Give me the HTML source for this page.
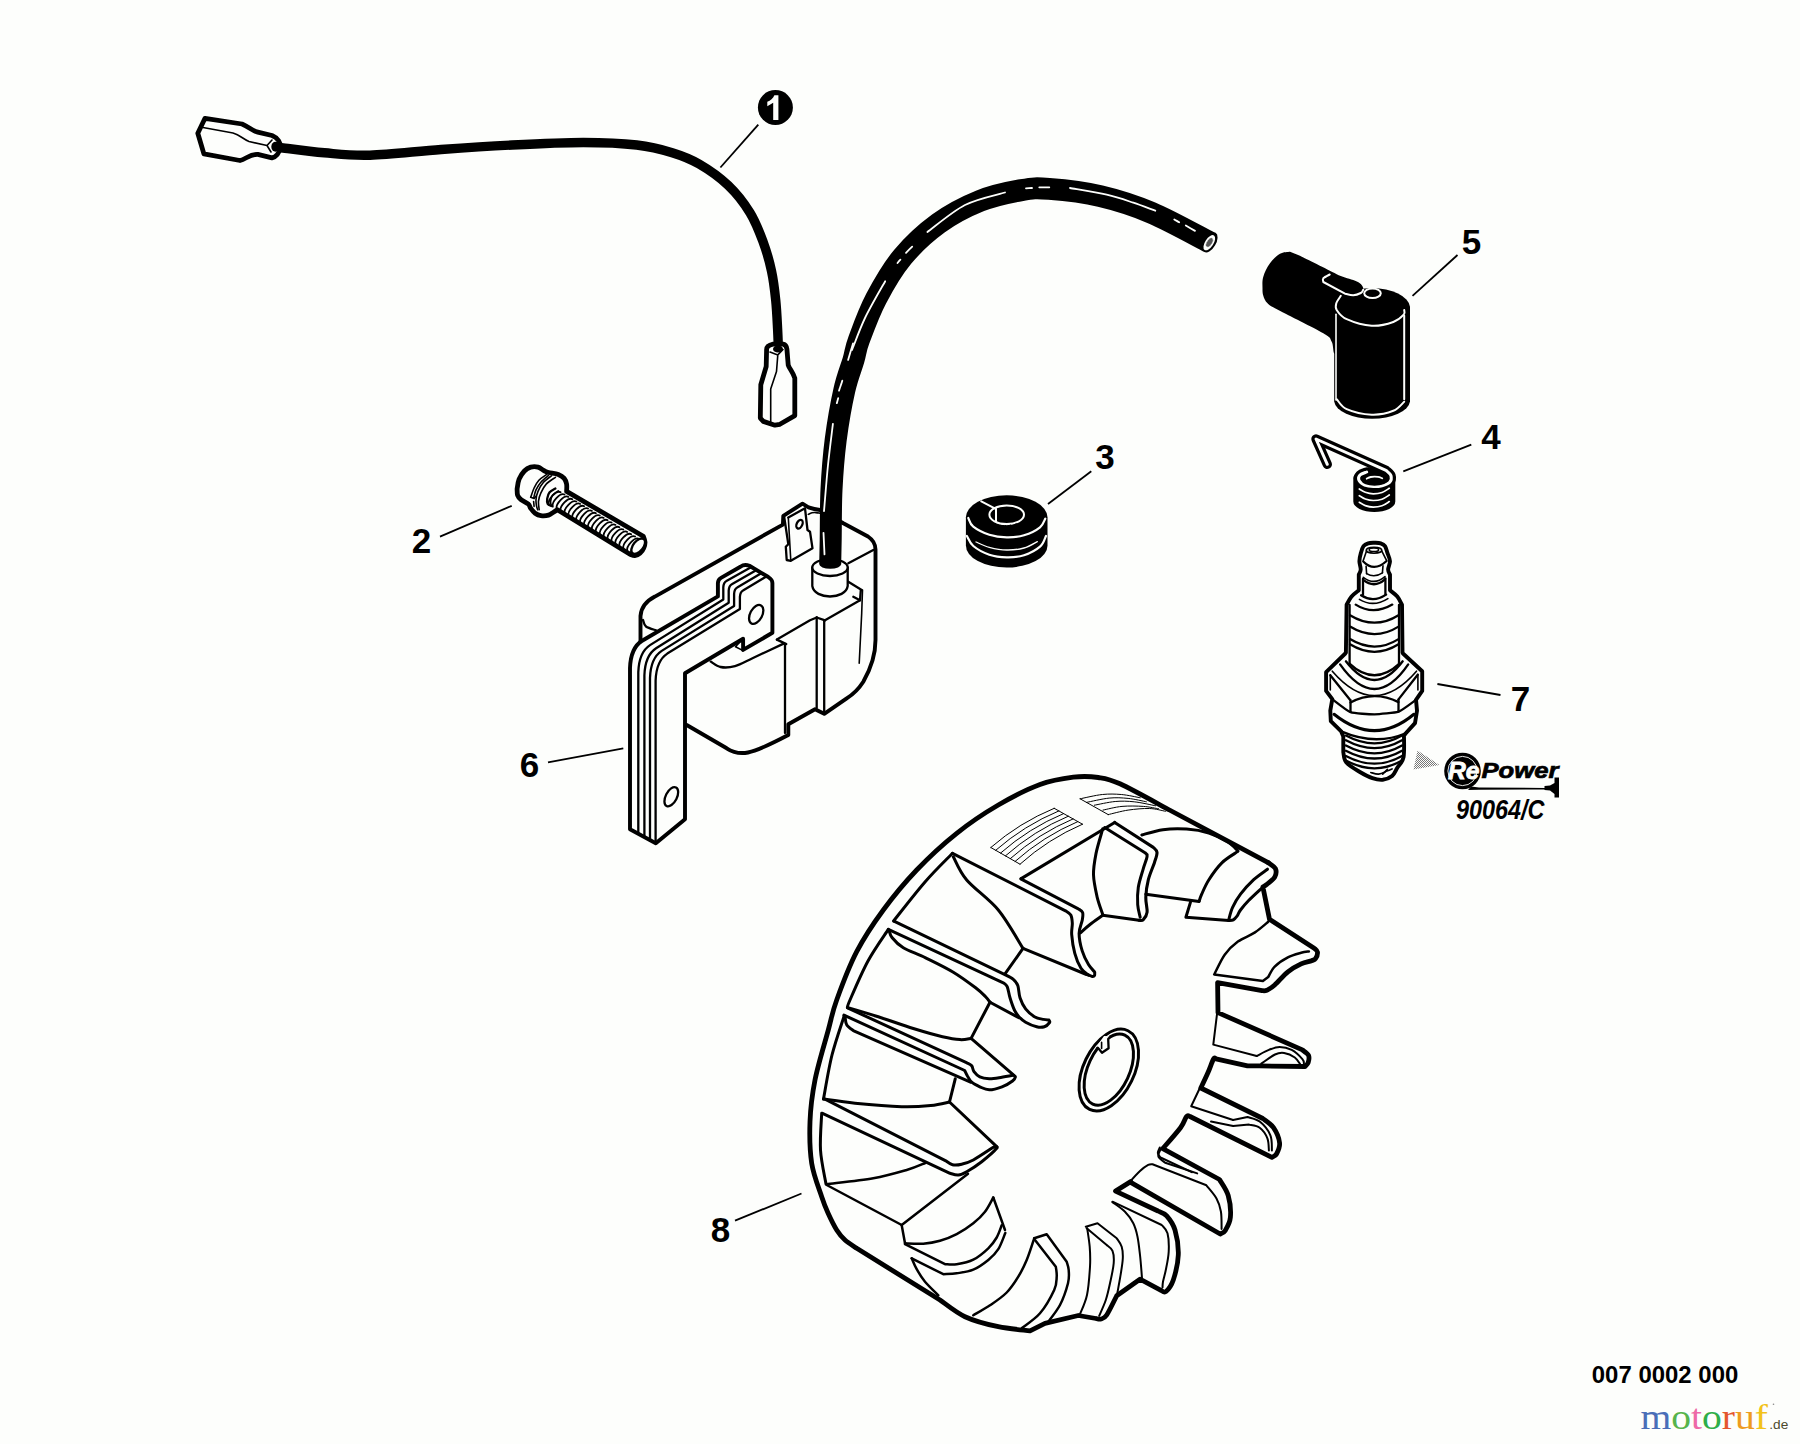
<!DOCTYPE html>
<html>
<head>
<meta charset="utf-8">
<title>Ignition parts diagram</title>
<style>
html,body{margin:0;padding:0;background:#fdfefc;}
body{width:1800px;height:1444px;overflow:hidden;font-family:"Liberation Sans",sans-serif;}
svg{display:block;position:absolute;left:0;top:0;}
.k{stroke:#000;fill:none;stroke-linecap:round;stroke-linejoin:round;}
.f{fill:#fdfefc;}
.b{fill:#000;}
.t6{stroke-width:5.4;}
.t5{stroke-width:4.8;}
.t4{stroke-width:3.9;}
.t3{stroke-width:3.1;}
.t2{stroke-width:2.3;}
.tf{stroke-width:3;}
.t25{stroke-width:2.5;}
.t20{stroke-width:2;}
.t1{stroke-width:1.6;}
.h{stroke-width:1;}
.w{stroke:#fdfefc;fill:none;stroke-linecap:round;stroke-linejoin:round;}
.lbl{font-family:"Liberation Sans",sans-serif;font-weight:bold;font-size:35px;fill:#000;text-anchor:middle;}
.ld{stroke:#000;stroke-width:1.8;fill:none;stroke-linecap:butt;}
</style>
</head>
<body>
<svg width="1800" height="1444" viewBox="0 0 1800 1444">
<rect x="0" y="0" width="1800" height="1444" fill="#fdfefc"/>
<g id="p_labels">
<circle cx="775.4" cy="107.5" r="17.5" fill="#000"/>
<path d="M778.4 95.3L778.4 120L773.2 120L773.2 102.8L767.3 106.2L767.3 101.8C770.5 100.5 773 98.5 774.4 95.3Z" fill="#fdfefc"/>
<path class="ld" d="M758.3 124.6L720.4 167.5"/>
<text x="421.5" y="553.1" class="lbl">2</text>
<path class="ld" d="M440.0 536.7L511.7 505.8"/>
<text x="1105.0" y="468.6" class="lbl">3</text>
<path class="ld" d="M1091.3 471.3L1048.0 504.0"/>
<text x="1491.0" y="449.3" class="lbl">4</text>
<path class="ld" d="M1471.3 444.7L1403.3 471.3"/>
<text x="1471.5" y="254.1" class="lbl">5</text>
<path class="ld" d="M1457.5 255.0L1412.5 295.8"/>
<text x="529.5" y="776.6" class="lbl">6</text>
<path class="ld" d="M548.0 762.3L623.3 748.3"/>
<text x="1520.5" y="711.2" class="lbl">7</text>
<path class="ld" d="M1437.4 684.0L1500.5 695.0"/>
<text x="720.5" y="1242.1" class="lbl">8</text>
<path class="ld" d="M735.0 1220.7L801.5 1193.5"/>
</g>
<g id="p_wire">
<path class="k" style="stroke-width:9.4" d="M280.0 147.5C287.4 148.4 309.4 151.5 324.4 152.8C339.4 154.1 350.6 155.8 370.0 155.2C389.4 154.6 417.4 151.2 441.1 149.5C464.8 147.8 488.5 146.2 512.2 145.0C535.9 143.8 562.5 142.5 583.3 142.5C604.0 142.5 621.9 143.3 636.7 145.0C651.5 146.7 661.8 149.5 672.2 152.7C682.6 155.9 689.8 158.6 699.1 164.0C708.4 169.4 719.7 177.3 728.2 185.4C736.7 193.5 744.2 203.3 750.0 212.7C755.8 222.1 759.5 232.1 763.1 241.8C766.7 251.5 769.4 261.2 771.5 270.9C773.6 280.6 774.7 290.3 775.7 300.0C776.7 309.7 777.2 321.4 777.6 329.1C778.0 336.8 778.2 343.2 778.3 346.0"/>
<path class="k t5 f" d="M205 118.3L242 124C249 127 253 131 257.8 132.2L272 135.5C278 138 281 143 280 148C279.5 153 276 157 272 157.8L257.8 154.4C250 154 246 159 240 160.5L203.9 153.9L197.8 133.3Z"/>
<path class="k t1" d="M203 127.5L233 133C240 135 243 139 249 141.5L267 145.5M267 145.5L272 140M267 145.5L271 152"/>
<path class="k t5 f" d="M773.2 344.1C769 345 766.6 346.5 766.6 349.5L766.2 366.5L760.8 384.8L760.3 418.1L763.3 421.4L774.9 425.2L779.9 424.3L794.8 415.6L794.8 378.2C793 372 789.5 369 788.2 364.9L786.9 349C786.5 346 785 344.5 783.2 344.1Z"/>
<path class="k t1" d="M770 352L777.8 354.9L783 349.5M777.8 354.9L776.5 371.5L770.7 389L770.7 421.4"/>
<ellipse cx="275.5" cy="146.8" rx="4.2" ry="5" fill="#000"/>
<ellipse cx="778" cy="349" rx="5" ry="3.6" fill="#000"/>
</g>
<g id="p_coil">
<path d="M640.5 660L640.5 616C641 609 645.5 601.5 654.9 596.6L782.9 524.6L783.3 515.8L802.5 503.7L808.5 507.3C812 508.5 816 509.5 820 510L843.3 523.3L868 536.5C872.5 539.5 875.5 543.5 875.5 549.5L875.5 640C875.5 655 870 670 863.3 681.7C858 690 852 695 846.7 698.3L824.2 713.8L815 709.2L788.3 724.2L788.3 735C775 742 760 750 748 752.5C740 754 733 752.5 726.7 748.3L686.7 725L686.7 660Z" fill="#fdfefc" stroke="none"/>
<path class="k t4" d="M640.5 660L640.5 616C641 609 645.5 601.5 654.9 596.6L782.9 524.6L783.3 515.8L802.5 503.7L808.5 507.3C812 508.5 816 509.5 820 510L843.3 523.3L868 536.5C872.5 539.5 875.5 543.5 875.5 549.5L875.5 640C875.5 655 870 670 863.3 681.7C858 690 852 695 846.7 698.3L824.2 713.8L815 709.2L788.3 724.2L788.3 735C775 742 760 750 748 752.5C740 754 733 752.5 726.7 748.3L686.7 725"/>
<path class="k t2" d="M643.0 620.0C643.5 621.1 643.8 624.8 646.0 626.5C648.2 628.2 654.3 629.7 656.0 630.3"/>
<path class="k t2" d="M848.3 563.3L873.3 550.0"/>
<path class="k t2" d="M848.3 581.7L861.7 590.0"/>
<path class="k t1" d="M862.5 590.0L861.7 613.3L859.2 663.3"/>
<path class="k t2" d="M853.3 596.7L860.0 600.3L825.0 620.3"/>
<path class="k t2" d="M860.0 600.3L860.8 590.3"/>
<path class="k t2" d="M816.7 617.5L816.7 708.0"/>
<path class="k t2" d="M824.2 621.0L824.2 713.0"/>
<path class="k t2" d="M816.7 617.5L825.0 620.3"/>
<path class="k t2" d="M776.9 639.6L810.0 620.2L816.7 617.5"/>
<path class="k t2" d="M776.9 639.6L786.3 644.1"/>
<path class="k t2" d="M785.0 644.0L785.0 733.0"/>
<path class="k t2" d="M710.7 661.6C712.4 662.5 716.6 666.2 720.6 667.0C724.6 667.8 729.6 667.6 735.0 666.1C740.4 664.6 744.9 661.8 753.0 658.0C761.1 654.2 778.5 646.0 783.6 643.6"/>
<path class="k t2 f" d="M812.3 567.5L812.3 586C814.5 600 845.5 600 847.7 586L847.7 567.5Z"/>
<ellipse class="k t2 f" cx="830.0" cy="567.5" rx="17.7" ry="8.5"/>
<path class="k t1" d="M808.3 514.4C808.9 514.1 810.7 513.1 812.0 512.8C813.3 512.5 814.7 512.5 816.0 512.6C817.3 512.7 819.3 513.1 820.0 513.2"/>
<path class="k t2 f" d="M788.3 517.5L805.0 508.3L807.5 530.0L810.0 531.7L812.5 548.3L790.8 560.8L786.7 560.0L785.8 546.7L788.3 544.2L784.2 517.0"/>
<path class="k t1" d="M788.3 517.5L790.8 560.8"/>
<ellipse class="k t2" cx="799.5" cy="524.2" rx="2.8" ry="4.6" transform="rotate(25.0 799.5 524.2)"/>
<path class="k t4 f" d="M630 829.2L630 668C630.5 654 634 646 641.7 641L717.9 596.4L717.9 583.3C718 580.5 719 579 721 577.9L740.4 566.7C743 564.8 747 564.8 749.4 565.8L768.3 577C771 578.8 772.4 580 772.4 583L772.4 632.8L743.1 649.9L743.1 638.7L685 673.3L685 819.2L655.8 843.3Z"/>
<path class="k t2" d="M638.3 833.8L638.3 672.1C638.8 658.1 642.3 650.1 650.0 645.1L723.3 599.5L723.3 587.4C723.5 583.6 724.3 582.1 726.4 581.0L750.1 567.8"/>
<path class="k t2" d="M644.4 837.2L644.4 675.2C644.9 661.2 648.4 653.2 656.1 648.2L728.7 602.7L728.7 590.6C728.9 586.8 729.7 585.3 731.8 584.2L755.3 570.8"/>
<path class="k t2" d="M650.0 840.2L650.0 677.9C650.5 663.9 654.0 655.9 661.7 650.9L734.1 605.9L734.1 593.8C734.3 590.0 735.1 588.5 737.2 587.4L760.4 573.8"/>
<path class="k t2" d="M655.6 843.2L655.6 680.6C656.1 666.6 659.6 658.6 667.3 653.6L739.9 609.0L739.9 596.9C740.1 593.1 740.9 591.6 743.0 590.5L765.9 576.8"/>
<ellipse class="k t2" cx="756.2" cy="614.4" rx="6.0" ry="10.2" transform="rotate(28.0 756.2 614.4)"/>
<ellipse class="k t2" cx="671.3" cy="796.7" rx="5.6" ry="10.4" transform="rotate(27.0 671.3 796.7)"/>
<path class="k t1" d="M741.8 640.0L735.5 646.8L743.1 650.6"/>
</g>
<g id="p_cable">
<path class="k" style="stroke-width:22;stroke-linecap:butt" d="M1209.5 242.2C1199.8 237.3 1169.8 220.5 1151.6 212.8C1133.4 205.1 1117.4 200.1 1100.3 196.1C1083.2 192.1 1062.2 189.9 1049.1 188.9C1036.0 187.9 1033.1 188.1 1021.6 190.1C1010.1 192.1 993.9 195.3 980.0 200.9C966.1 206.5 951.4 214.1 938.5 223.4C925.6 232.8 912.9 244.5 902.5 257.0C892.1 269.5 883.5 284.7 876.2 298.5C868.9 312.3 862.7 329.8 858.9 340.0C855.1 350.2 855.9 351.7 853.5 360.0C851.1 368.3 847.4 376.6 844.4 389.9C841.4 403.2 837.9 423.1 835.7 439.7C833.6 456.3 832.3 473.0 831.5 489.6C830.7 506.2 830.9 527.0 830.7 539.4C830.5 551.8 830.3 559.9 830.2 564.0"/>
<ellipse cx="830.2" cy="564" rx="11" ry="4.8" fill="#000"/>
<ellipse cx="1210" cy="242.4" rx="5.9" ry="11.2" transform="rotate(30 1210 242.4)" fill="#000"/>
<ellipse cx="1209.3" cy="242.7" rx="4.2" ry="8.6" transform="rotate(33 1209.3 242.7)" fill="#fdfefc"/>
<ellipse cx="1209.5" cy="242.5" rx="2.6" ry="5.2" transform="rotate(33 1209.5 242.5)" fill="#555"/>
<ellipse cx="1209.5" cy="242.5" rx="2.6" ry="5.2" transform="rotate(33 1209.5 242.5)" fill="none" stroke="#fdfefc" stroke-width="0.8" stroke-dasharray="1 1.2"/>
<path class="w" style="stroke-width:1.8" d="M853.1 343.3C852.3 346.1 848.9 357.1 848.1 359.9"/>
<path class="w" style="stroke-width:1.8" d="M842.3 380.7C841.8 382.4 839.5 389.0 839.0 390.7"/>
<path class="w" style="stroke-width:1.8" d="M838.2 398.2C838.0 399.0 837.0 402.4 836.8 403.2"/>
<path class="w" style="stroke-width:1.8" d="M832.9 423.9C832.1 430.8 829.5 450.4 828.0 465.0C826.5 479.6 824.7 503.5 824.0 511.2"/>
<path class="w" style="stroke-width:1.8" d="M823.5 532.8C823.7 536.4 824.3 550.8 824.5 554.4"/>
<path class="w" style="stroke-width:1.8" d="M1005.0 192.5C998.3 194.6 977.9 198.4 965.0 205.0C952.1 211.6 933.7 227.5 927.4 232.0"/>
<path class="w" style="stroke-width:1.8" d="M912.2 246.6C911.2 247.6 907.0 251.8 906.0 252.8"/>
<path class="w" style="stroke-width:1.8" d="M900.4 259.7C899.9 260.2 898.0 262.4 897.5 263.0"/>
<path class="w" style="stroke-width:1.8" d="M885.2 281.2C881.8 287.3 870.5 306.5 865.0 318.0C859.5 329.5 854.2 344.7 852.0 350.0"/>
<path class="w" style="stroke-width:1.8" d="M1026.0 188.3C1027.0 188.2 1031.0 188.1 1032.0 188.0"/>
<path class="w" style="stroke-width:1.8" d="M1039.3 187.3C1041.0 187.3 1047.6 187.3 1049.3 187.3"/>
<path class="w" style="stroke-width:1.8" d="M1070.0 188.0C1076.1 189.1 1096.2 192.2 1106.7 194.7C1117.2 197.1 1125.2 200.0 1133.3 202.7C1141.4 205.4 1151.6 209.4 1155.3 210.7"/>
<path class="w" style="stroke-width:1.8" d="M1174.3 219.4C1175.1 219.9 1178.4 221.8 1179.2 222.3"/>
<path class="w" style="stroke-width:1.8" d="M1185.8 225.5C1187.3 226.4 1193.5 230.0 1195.0 230.9"/>
</g>
<g id="p_bolt">
<path class="k t5 f" d="M517.1 488.9C517.4 487.3 517.9 482.2 519.1 479.2C520.3 476.2 522.5 473.0 524.4 471.0C526.3 469.0 528.4 467.8 530.7 467.1C533.0 466.5 535.8 466.5 538.0 467.1C540.2 467.7 542.0 469.6 543.8 470.5C545.6 471.4 546.2 471.9 548.6 472.5C551.0 473.1 555.7 473.4 558.3 474.4C560.9 475.4 562.8 476.7 564.2 478.3C565.6 479.9 566.2 481.9 566.6 484.1C567.0 486.3 566.6 490.2 566.6 491.4L643.3 536.3C643.6 537.2 644.9 540.0 645.0 542.0C645.1 544.0 644.5 546.1 643.7 548.0C642.9 549.9 641.5 552.0 640.0 553.3C638.5 554.6 636.7 555.6 635.0 555.7C633.3 555.9 630.8 554.5 630.0 554.2L557.4 509.8C556.8 510.2 555.0 511.3 553.5 512.2C552.0 513.1 550.7 514.5 548.6 515.1C546.5 515.7 543.1 515.9 540.9 515.6C538.6 515.3 536.8 514.4 535.1 513.2C533.4 512.0 531.8 509.8 530.7 508.3C529.6 506.8 529.9 505.4 528.3 504.0C526.7 502.6 522.8 501.1 521.0 499.6C519.2 498.1 518.2 497.0 517.6 495.2C517.0 493.4 517.2 489.9 517.1 488.9Z"/>
<path class="k t1" style="stroke-width:1.8" d="M1.5 -8.4A4.2 8.6 0 0 0 0.5 8.4" transform="translate(554.0 497.7) rotate(40.7)"/>
<path class="k t1" style="stroke-width:1.8" d="M1.5 -8.4A4.2 8.6 0 0 0 0.5 8.4" transform="translate(557.9 500.0) rotate(40.7)"/>
<path class="k t1" style="stroke-width:1.8" d="M1.5 -8.4A4.2 8.6 0 0 0 0.5 8.4" transform="translate(561.8 502.3) rotate(40.7)"/>
<path class="k t1" style="stroke-width:1.8" d="M1.5 -8.4A4.2 8.6 0 0 0 0.5 8.4" transform="translate(565.7 504.7) rotate(40.7)"/>
<path class="k t1" style="stroke-width:1.8" d="M1.5 -8.4A4.2 8.6 0 0 0 0.5 8.4" transform="translate(569.7 507.0) rotate(40.7)"/>
<path class="k t1" style="stroke-width:1.8" d="M1.5 -8.4A4.2 8.6 0 0 0 0.5 8.4" transform="translate(573.6 509.3) rotate(40.7)"/>
<path class="k t1" style="stroke-width:1.8" d="M1.5 -8.4A4.2 8.6 0 0 0 0.5 8.4" transform="translate(577.5 511.7) rotate(40.7)"/>
<path class="k t1" style="stroke-width:1.8" d="M1.5 -8.4A4.2 8.6 0 0 0 0.5 8.4" transform="translate(581.4 514.0) rotate(40.7)"/>
<path class="k t1" style="stroke-width:1.8" d="M1.5 -8.4A4.2 8.6 0 0 0 0.5 8.4" transform="translate(585.3 516.3) rotate(40.7)"/>
<path class="k t1" style="stroke-width:1.8" d="M1.5 -8.4A4.2 8.6 0 0 0 0.5 8.4" transform="translate(589.3 518.7) rotate(40.7)"/>
<path class="k t1" style="stroke-width:1.8" d="M1.5 -8.4A4.2 8.6 0 0 0 0.5 8.4" transform="translate(593.2 521.0) rotate(40.7)"/>
<path class="k t1" style="stroke-width:1.8" d="M1.5 -8.4A4.2 8.6 0 0 0 0.5 8.4" transform="translate(597.1 523.3) rotate(40.7)"/>
<path class="k t1" style="stroke-width:1.8" d="M1.5 -8.4A4.2 8.6 0 0 0 0.5 8.4" transform="translate(601.0 525.7) rotate(40.7)"/>
<path class="k t1" style="stroke-width:1.8" d="M1.5 -8.4A4.2 8.6 0 0 0 0.5 8.4" transform="translate(605.0 528.0) rotate(40.7)"/>
<path class="k t1" style="stroke-width:1.8" d="M1.5 -8.4A4.2 8.6 0 0 0 0.5 8.4" transform="translate(608.9 530.3) rotate(40.7)"/>
<path class="k t1" style="stroke-width:1.8" d="M1.5 -8.4A4.2 8.6 0 0 0 0.5 8.4" transform="translate(612.8 532.7) rotate(40.7)"/>
<path class="k t1" style="stroke-width:1.8" d="M1.5 -8.4A4.2 8.6 0 0 0 0.5 8.4" transform="translate(616.7 535.0) rotate(40.7)"/>
<path class="k t1" style="stroke-width:1.8" d="M1.5 -8.4A4.2 8.6 0 0 0 0.5 8.4" transform="translate(620.6 537.3) rotate(40.7)"/>
<path class="k t1" style="stroke-width:1.8" d="M1.5 -8.4A4.2 8.6 0 0 0 0.5 8.4" transform="translate(624.6 539.7) rotate(40.7)"/>
<path class="k t1" style="stroke-width:1.8" d="M1.5 -8.4A4.2 8.6 0 0 0 0.5 8.4" transform="translate(628.5 542.0) rotate(40.7)"/>
<path class="k t1" style="stroke-width:1.8" d="M1.5 -8.4A4.2 8.6 0 0 0 0.5 8.4" transform="translate(632.4 544.3) rotate(40.7)"/>
<path class="k t1" style="stroke-width:1.8" d="M1.5 -8.4A4.2 8.6 0 0 0 0.5 8.4" transform="translate(636.3 546.7) rotate(40.7)"/>
<ellipse class="k t2 f" cx="638.2" cy="546.2" rx="5.0" ry="9.0" transform="rotate(38.7 638.2 546.2)"/>
<path class="k t2" d="M555.4 488.5C554.4 489.1 551.0 490.6 549.6 492.3C548.2 494.0 547.5 496.7 547.2 498.6C546.9 500.6 547.0 502.8 547.7 504.0C548.4 505.2 550.9 505.6 551.5 505.9"/>
<path class="k t1" d="M558.3 490.9C557.3 491.6 553.8 493.4 552.5 495.2C551.2 497.0 550.8 499.6 550.6 501.5C550.4 503.4 551.4 505.6 551.5 506.4"/>
<path class="k t1" d="M546.7 474.4C545.4 475.4 541.0 477.9 538.9 480.2C536.8 482.5 535.5 485.2 534.1 488.0C532.7 490.8 531.3 495.7 530.7 497.2"/>
<path class="k t1" d="M548.6 475.4C547.3 476.5 543.0 479.8 540.9 482.2C538.8 484.6 537.2 487.2 536.0 489.9C534.8 492.6 534.0 496.8 533.6 498.2"/>
<path class="k t1" d="M551.5 475.8C550.1 476.9 545.5 480.0 543.3 482.6C541.0 485.2 539.2 488.6 538.0 491.4C536.8 494.2 536.2 497.2 536.0 499.6C535.8 502.0 536.2 504.2 536.5 505.9C536.8 507.6 537.5 509.1 537.7 509.8"/>
<path class="k t1" d="M555.4 477.3C553.9 478.4 548.6 481.5 546.2 484.1C543.8 486.7 542.2 490.0 540.9 492.8C539.6 495.6 538.8 498.3 538.5 501.1C538.2 503.9 539.1 508.4 539.2 509.8"/>
<path class="k t1" d="M530.7 497.2L534.1 498.6L536.0 496.2"/>
<path class="k t1" d="M533.6 501.5L534.1 506.4"/>
</g>
<g id="p_grommet">
<path fill="#000" d="M965.9 517.3A40.8 22 0 0 1 1047.5 517.3L1047.5 545.5A40.8 22 0 0 1 965.9 545.5Z"/>
<path class="w" style="stroke-width:2.2" d="M968.3 518.0C969.1 519.5 969.8 523.9 973.3 526.7C976.8 529.5 983.7 532.9 989.3 534.7C994.9 536.5 1000.9 537.2 1006.7 537.3C1012.5 537.4 1018.5 537.0 1024.0 535.3C1029.5 533.6 1036.5 530.1 1040.0 527.3C1043.5 524.5 1044.4 520.1 1045.3 518.7"/>
<path class="w" style="stroke-width:2.2" d="M966.9 536.0C968.0 537.7 969.6 542.9 973.3 546.0C977.0 549.1 983.7 552.8 989.3 554.7C994.9 556.6 1000.9 557.2 1006.7 557.3C1012.5 557.4 1018.5 557.1 1024.0 555.3C1029.5 553.5 1036.3 549.9 1040.0 546.7C1043.7 543.5 1045.0 537.8 1046.0 536.0"/>
<path class="w" style="stroke-width:1.3" d="M976.0 542.0C978.2 542.9 984.2 546.0 989.3 547.3C994.4 548.6 1000.9 549.9 1006.7 550.0C1012.5 550.1 1018.9 549.4 1024.0 548.0C1029.1 546.6 1035.1 542.7 1037.3 541.6"/>
<ellipse class="w" style="stroke-width:2" cx="1006.7" cy="514.7" rx="17.3" ry="9.3"/>
<path class="w" style="stroke-width:2" d="M981.3 501.3L995.7 508.8"/>
<path class="w" style="stroke-width:2" d="M996.0 509.1L996.0 521.3"/>
<path class="w" style="stroke-width:1;stroke-dasharray:3 2" d="M996.7 522.7C998.1 523.0 1002.1 524.6 1005.3 524.7C1008.5 524.8 1014.2 523.5 1016.0 523.3"/>
</g>
<g id="p_boot">
<path fill="#000" d="M1334.2 306.7A38 20 0 0 1 1410 306.7L1410 401.5A38 18.5 0 0 1 1334.2 401.5Z"/>
<path fill="#000" d="M1290.0 251.7C1288.3 252.0 1283.3 251.8 1280.0 253.7C1276.7 255.6 1272.8 259.5 1270.0 263.3C1267.2 267.1 1264.5 272.5 1263.3 276.7C1262.0 280.9 1262.5 285.1 1262.5 288.3C1262.5 291.5 1262.5 293.3 1263.3 295.8C1264.1 298.3 1265.0 300.9 1267.5 303.3C1270.0 305.7 1269.0 305.0 1278.3 310.0C1287.6 315.0 1314.4 328.0 1323.3 333.3C1332.2 338.6 1329.7 338.4 1331.7 341.7C1333.7 345.0 1332.8 355.8 1335.3 353.3C1337.8 350.8 1342.0 337.5 1346.7 326.7C1351.4 315.9 1365.0 297.1 1363.3 288.3C1361.6 279.6 1347.2 279.6 1336.7 274.2C1326.2 268.8 1306.1 258.9 1300.0 255.8Z"/>
<path class="w" style="stroke-width:2" d="M1340.8 295.8C1340.0 297.1 1337.0 300.9 1336.3 303.3C1335.6 305.7 1335.0 307.4 1336.7 310.0C1338.4 312.6 1340.9 316.6 1346.7 319.2C1352.5 321.8 1363.9 325.3 1371.7 325.8C1379.5 326.3 1388.0 323.9 1393.3 322.0C1398.6 320.1 1401.9 316.7 1403.7 314.7C1405.5 312.7 1404.1 310.8 1404.2 310.0"/>
<path class="w" style="stroke-width:2" d="M1404.2 315.8L1404.2 399.2"/>
<path class="w" style="stroke-width:1.6" d="M1336.0 314.2L1336.0 400.0"/>
<path class="w" style="stroke-width:2" d="M1336.7 399.2C1338.4 400.9 1340.9 406.6 1346.7 409.2C1352.5 411.8 1363.9 414.4 1371.7 414.7C1379.5 415.0 1387.9 413.0 1393.3 410.8C1398.7 408.6 1402.4 403.2 1404.2 401.7"/>
<ellipse class="w" style="stroke-width:2" cx="1372.5" cy="293.3" rx="8.3" ry="4.7"/>
<path class="w" style="stroke-width:2" d="M1329.7 274.5C1328.6 275.1 1324.4 277.1 1323.3 278.3C1322.2 279.6 1323.3 281.4 1323.3 282.0L1345.0 293.7C1346.4 294.0 1350.7 295.4 1353.3 295.3C1355.9 295.2 1359.1 293.9 1360.8 293.0C1362.5 292.1 1362.9 290.2 1363.3 289.7"/>
</g>
<g id="p_spring">
<path fill="#000" d="M1353.3 478.3A21 10.5 0 0 1 1395.3 478.3L1395.3 501.5A21 10.5 0 0 1 1353.3 501.5Z"/>
<path class="k" style="stroke-width:9.4" d="M1327.3 464.3L1316.0 439.0L1386.0 470.3C1386.8 471.2 1390.4 473.7 1391.0 475.7C1391.6 477.7 1391.2 480.6 1389.7 482.3C1388.2 484.0 1384.7 485.0 1382.0 485.7C1379.3 486.4 1376.2 486.6 1373.3 486.5C1370.4 486.4 1367.1 486.0 1364.7 485.0C1362.3 484.0 1359.8 482.0 1359.0 480.3C1358.2 478.6 1358.7 476.4 1360.0 475.0C1361.3 473.6 1365.6 472.5 1366.7 472.0"/>
<path class="w" style="stroke-width:3" d="M1327.3 464.3L1316.0 439.0L1386.0 470.3C1386.8 471.2 1390.4 473.7 1391.0 475.7C1391.6 477.7 1391.2 480.6 1389.7 482.3C1388.2 484.0 1384.7 485.0 1382.0 485.7C1379.3 486.4 1376.2 486.6 1373.3 486.5C1370.4 486.4 1367.1 486.0 1364.7 485.0C1362.3 484.0 1359.8 482.0 1359.0 480.3C1358.2 478.6 1358.7 476.4 1360.0 475.0C1361.3 473.6 1365.6 472.5 1366.7 472.0"/>
<ellipse cx="1374.5" cy="480.8" rx="12.6" ry="5" fill="#000"/>
<path class="w" style="stroke-width:1.8" d="M1366.7 478.7C1367.4 478.4 1368.8 477.3 1370.7 477.0C1372.6 476.7 1376.1 476.7 1378.0 476.9C1379.9 477.1 1381.6 478.1 1382.3 478.3"/>
<path class="w" style="stroke-width:1.7" d="M1359.3 489.0C1360.3 489.6 1363.0 491.5 1365.3 492.3C1367.6 493.1 1370.5 493.8 1373.3 493.8C1376.1 493.8 1379.3 493.4 1382.0 492.5C1384.7 491.6 1388.1 489.0 1389.3 488.3"/>
<path class="w" style="stroke-width:1.7" d="M1359.3 495.7C1360.3 496.2 1363.0 498.2 1365.3 499.0C1367.6 499.8 1370.5 500.5 1373.3 500.5C1376.1 500.5 1379.3 500.1 1382.0 499.2C1384.7 498.3 1388.1 495.7 1389.3 495.0"/>
<path class="w" style="stroke-width:1.7" d="M1359.3 502.3C1360.3 502.9 1363.0 504.8 1365.3 505.6C1367.6 506.4 1370.5 507.1 1373.3 507.1C1376.1 507.1 1379.3 506.7 1382.0 505.8C1384.7 504.9 1388.1 502.3 1389.3 501.6"/>
</g>
<g id="p_plug">
<path class="k t4 f" d="M1374.4 542.7C1373.4 542.8 1370.0 542.7 1368.2 543.3C1366.4 543.9 1364.7 544.5 1363.5 546.1C1362.3 547.7 1361.6 550.4 1360.9 552.9C1360.2 555.4 1359.4 558.4 1359.4 561.2C1359.4 564.0 1360.8 567.2 1360.7 569.5C1360.6 571.8 1359.1 573.8 1358.8 574.7L1358.8 590.3C1357.6 591.3 1353.6 594.1 1351.6 596.5C1349.6 598.9 1347.4 603.4 1346.6 604.8L1345.9 652.6L1345.3 653.5L1326.1 672.2L1326.1 690.9L1332.3 699.2L1330.3 710.7L1330.8 721.1L1341.2 731.4L1343.3 736.6L1343.3 752.2C1343.8 753.9 1343.6 759.3 1346.4 762.6C1349.2 765.9 1355.6 769.4 1359.9 772.0C1364.2 774.6 1368.6 776.9 1372.4 778.2C1376.2 779.5 1379.4 780.1 1382.7 779.8C1386.0 779.4 1389.7 778.1 1392.1 776.1C1394.5 774.1 1395.4 770.9 1397.3 767.8C1399.2 764.7 1402.4 762.8 1403.5 757.4C1404.6 752.0 1403.9 739.2 1404.0 735.6L1405.6 733.5L1415.0 723.1L1417.0 710.7L1416.0 699.8L1422.2 690.9L1422.2 671.2L1403.0 653.5L1402.5 652.6L1402.0 604.8C1401.2 603.4 1399.3 598.9 1397.3 596.5C1395.3 594.1 1391.2 591.3 1390.0 590.3L1390.0 574.7C1389.7 573.8 1388.1 571.8 1388.1 569.5C1388.1 567.2 1390.1 564.0 1390.0 561.2C1389.9 558.4 1388.2 555.4 1387.4 552.9C1386.6 550.4 1386.1 547.7 1385.0 546.1C1383.9 544.5 1382.5 543.9 1380.7 543.3C1378.9 542.7 1375.5 542.8 1374.4 542.7Z"/>
<ellipse class="k t1" cx="1373.9" cy="549.7" rx="4.7" ry="1.8"/>
<ellipse class="k t1" cx="1374.0" cy="550.2" rx="7.8" ry="3.0"/>
<path class="k t1" d="M1366.6 550.8L1363.0 561.2"/>
<path class="k t1" d="M1381.7 550.8L1386.4 560.1"/>
<path class="k t2" d="M1363.5 561.7Q1374.1 572.4 1386.6 561.0"/>
<path class="k t1" d="M1366.1 566.4L1366.6 573.6"/>
<path class="k t1" d="M1383.0 565.9L1382.4 572.8"/>
<path class="k t1" d="M1366.6 573.6Q1374.3 578.2 1382.5 572.8"/>
<path class="k t1" d="M1363.3 577.3Q1374.2 585.8 1385.0 576.6"/>
<path class="k t2" d="M1363.3 579.9Q1374.2 588.8 1385.0 579.4"/>
<path class="k t2" d="M1363.0 578.8L1363.0 594.6"/>
<path class="k t2" d="M1385.4 578.3L1385.4 594.4"/>
<path class="k t2" d="M1361.1 595.3Q1373.2 603.2 1386.1 594.6"/>
<path class="k t1" d="M1359.4 599.4Q1373.2 607.8 1387.9 598.6"/>
<path class="k t2" d="M1355.7 604.6Q1373.2 615.8 1392.3 604.6"/>
<path class="k t2" d="M1350.0 615.2Q1374.6 630.2 1398.5 615.2"/>
<path class="k t2" d="M1350.0 626.6Q1374.6 641.6 1398.5 626.6"/>
<path class="k t2" d="M1350.0 639.1Q1374.6 654.1 1398.5 639.1"/>
<path class="k t2" d="M1350.0 644.3Q1374.6 659.3 1398.5 644.3"/>
<path class="k t2" d="M1349.6 605.0L1349.6 664.1"/>
<path class="k t2" d="M1399.0 605.0L1399.0 664.1"/>
<path class="k t2" d="M1349.5 663.7Q1374.4 686.9 1399.4 663.7"/>
<path class="k t2" d="M1345.9 661.3Q1374.5 698.7 1402.7 661.3"/>
<path class="k t2" d="M1340.1 664.4Q1374.7 713.6 1408.2 664.4"/>
<path class="k t1" d="M1332.3 671.2Q1374.4 720.0 1416.5 671.2"/>
<path class="k t1" d="M1330.3 674.8L1330.3 689.9"/>
<path class="k t1" d="M1417.9 674.3L1417.9 689.9"/>
<path class="k t2" d="M1330.3 675.3L1350.0 699.8"/>
<path class="k t2" d="M1417.7 674.8L1398.5 699.4"/>
<path class="k t2" d="M1350.5 700.1L1350.5 711.9"/>
<path class="k t2" d="M1398.5 699.6L1398.5 711.7"/>
<path class="k t2" d="M1350.5 702.4Q1374.3 690.0 1398.5 702.1"/>
<path class="k t2" d="M1332.3 699.2C1333.8 700.3 1347.0 710.9 1350.5 712.2C1354.0 713.5 1370.4 714.3 1374.4 714.3C1378.4 714.3 1395.0 712.9 1398.5 711.7C1402.0 710.5 1414.5 700.8 1416.0 699.8"/>
<path class="k t3" d="M1334.1 714.3Q1374.8 746.9 1413.9 714.3"/>
<path class="k t2" d="M1341.2 731.4Q1375.3 746.1 1405.8 733.3"/>
<path class="k t2" d="M1345.9 735.6Q1374.9 751.2 1402.0 735.6"/>
<path class="k t2" d="M1345.9 740.3Q1374.9 755.9 1402.0 740.3"/>
<path class="k t2" d="M1345.9 745.5Q1374.9 761.1 1402.0 745.5"/>
<path class="k t2" d="M1345.9 750.7Q1374.9 766.3 1402.0 750.7"/>
<path class="k t2" d="M1345.9 755.9Q1374.9 771.5 1402.0 755.9"/>
<path class="k t2" d="M1345.9 760.5Q1374.9 776.1 1402.0 760.5"/>
<path class="k t1" d="M1370.8 772.5C1372.1 772.8 1375.9 774.3 1378.6 774.1C1381.3 773.9 1384.7 772.0 1386.9 771.1C1389.2 770.2 1391.2 769.3 1392.1 768.9"/>
<path class="k t1" d="M1382.7 774.1C1383.2 773.6 1385.1 771.7 1385.9 770.9C1386.7 770.1 1387.2 769.6 1387.4 769.4"/>
</g>
<g id="p_logo">
<defs><pattern id="ht" width="2" height="2" patternUnits="userSpaceOnUse"><rect width="2" height="2" fill="#fdfefc"/><rect width="1" height="1" fill="#777"/><rect x="1" y="1" width="1" height="1" fill="#777"/></pattern></defs>
<path d="M1417.5 750.5L1439.5 765L1413.5 769.5Z" fill="url(#ht)"/>
<circle cx="1462.5" cy="771" r="18.3" fill="#000"/>
<circle cx="1462.5" cy="771" r="14.6" fill="none" stroke="#fdfefc" stroke-width="0.9"/>
<text x="1448" y="778.5" textLength="31.5" lengthAdjust="spacingAndGlyphs" style="font-family:'Liberation Sans',sans-serif;font-weight:bold;font-style:italic;font-size:24.5px;fill:#fdfefc;stroke:#fdfefc;stroke-width:0.8">Re</text>
<text x="1481.5" y="777.5" textLength="77" lengthAdjust="spacingAndGlyphs" style="font-family:'Liberation Sans',sans-serif;font-weight:bold;font-style:italic;font-size:22.5px;fill:#000;stroke:#000;stroke-width:0.7">Power</text>
<path d="M1471 786.6L1479 787.6L1545 787.9L1545 789.5L1479 789.8L1468 790Z" fill="#000"/>
<path d="M1544.5 786L1550 785.5L1554.5 783L1554.5 777.5L1559 777.5L1559 797.5L1554.5 797.5L1554.5 794L1550 790.5L1544.5 790Z" fill="#000"/>
<text x="1456" y="818.5" textLength="88.5" lengthAdjust="spacingAndGlyphs" style="font-family:'Liberation Sans',sans-serif;font-weight:bold;font-style:italic;font-size:27.5px;fill:#000">90064/C</text>
</g>
<g id="p_fly">
<path class="k t5" d="M1268.2 862.6L1169.5 810.0C1161.2 805.6 1131.9 789.2 1120.0 783.8C1108.1 778.4 1106.1 778.6 1098.3 777.5C1090.5 776.4 1083.0 776.0 1073.3 777.2C1063.6 778.4 1052.5 779.9 1040.0 784.5C1027.5 789.1 1012.2 796.9 998.3 805.0C984.4 813.1 970.3 822.5 956.7 833.3C943.1 844.1 928.9 857.2 916.7 870.0C904.5 882.8 893.3 896.4 883.3 910.0C873.3 923.6 864.5 936.7 856.7 951.7C848.9 966.7 841.4 987.0 836.7 1000.0C832.0 1013.0 831.9 1016.7 828.3 1030.0C824.7 1043.3 818.0 1064.7 815.0 1080.0C812.0 1095.3 810.5 1107.8 810.0 1121.7C809.5 1135.6 809.8 1150.8 811.7 1163.3C813.7 1175.8 819.0 1188.4 821.7 1196.7C824.4 1205.0 825.5 1207.5 828.0 1213.0C830.5 1218.5 833.9 1225.5 836.7 1230.0C839.5 1234.5 841.7 1237.0 845.0 1240.0C848.3 1243.0 854.8 1246.9 856.7 1248.3L940.0 1300.0C944.2 1302.8 955.3 1312.2 965.0 1316.7C974.7 1321.2 987.5 1324.4 998.3 1326.7C1009.1 1329.0 1024.7 1330.1 1030.0 1330.8L1045.0 1323.3L1078.3 1315.5L1096.0 1318.5C1096.8 1318.6 1099.2 1319.6 1101.0 1319.0C1102.8 1318.4 1104.1 1318.9 1106.7 1315.0C1109.3 1311.1 1115.0 1299.0 1116.7 1295.8L1140 1279.2L1161 1290.3C1161.8 1290.5 1164.0 1293.2 1166.0 1291.5C1168.0 1289.8 1171.2 1286.1 1173.3 1280.0C1175.3 1273.9 1178.0 1263.3 1178.3 1255.0C1178.6 1246.7 1176.9 1236.5 1175.0 1230.0C1173.1 1223.5 1169.5 1219.0 1166.7 1215.8C1163.9 1212.6 1159.5 1211.8 1158.0 1211.0L1115.5 1191.1L1130.7 1181.6"/>
<path class="k t5" d="M1268.2 862.6C1269.4 863.6 1274.3 866.2 1275.4 868.6C1276.5 871.0 1276.1 874.5 1274.7 877.1C1273.3 879.7 1268.8 882.6 1266.8 884.3C1264.8 885.9 1263.6 886.5 1262.9 887.0L1269.5 919.2L1314.2 948.2C1314.8 948.9 1317.3 950.4 1317.5 952.1C1317.7 953.9 1316.5 957.3 1315.5 958.7C1314.5 960.1 1314.0 959.8 1311.6 960.7C1309.2 961.6 1305.0 962.0 1301.1 963.9C1297.1 965.8 1292.3 968.3 1287.9 971.8C1283.5 975.3 1278.2 981.9 1274.7 985.0C1271.2 988.1 1268.9 989.3 1266.8 990.3C1264.7 991.2 1262.8 990.6 1262.0 990.7L1217.6 982.6L1218 1012.6L1302.4 1049.9C1303.4 1050.8 1307.5 1053.2 1308.5 1055.3C1309.5 1057.4 1308.8 1060.6 1308.2 1062.5C1307.6 1064.4 1305.5 1065.8 1305.0 1066.5L1259.7 1065.9L1247.5 1065.9L1216 1058.8C1215.6 1058.8 1214.8 1056.7 1213.5 1059.0C1212.2 1061.3 1210.0 1068.0 1207.9 1072.8C1205.8 1077.6 1202.0 1085.5 1200.8 1088.0L1262.8 1118.5C1264.6 1120.0 1270.7 1123.6 1273.5 1127.7C1276.3 1131.8 1279.1 1138.5 1279.6 1142.9C1280.1 1147.3 1277.8 1151.6 1276.5 1154.0C1275.2 1156.4 1272.7 1156.8 1271.9 1157.4L1190 1116.5C1189.4 1116.5 1188.1 1114.6 1186.5 1116.5C1184.9 1118.4 1184.5 1122.4 1180.5 1127.7C1176.5 1133.0 1165.8 1145.1 1162.8 1148.6L1219.5 1179.5C1221.0 1182.2 1226.4 1189.2 1228.2 1195.5C1230.0 1201.8 1230.9 1211.5 1230.4 1217.3C1229.9 1223.1 1227.0 1227.6 1225.3 1230.4C1223.6 1233.2 1221.0 1233.4 1220.2 1234.0L1130.7 1182.4"/>
<path class="k tf" d="M952.5 853.3C947.9 858.1 934.8 870.7 925.0 882.0C915.2 893.3 898.8 914.5 893.6 921.0"/>
<path class="k tf" d="M888.3 929.4C884.9 934.7 874.4 949.2 868.0 961.0C861.6 972.8 853.4 992.2 850.0 1000.0C846.6 1007.8 847.8 1006.2 847.4 1007.5"/>
<path class="k tf" d="M844.2 1015.8C842.2 1022.3 835.5 1041.1 832.0 1055.0C828.5 1068.9 824.9 1091.7 823.5 1099.0"/>
<path class="k tf" d="M821.7 1113.3C821.5 1119.4 819.8 1138.2 820.5 1150.0C821.2 1161.8 825.1 1178.3 826.0 1184.0"/>
<path class="k tf" d="M1020.8 878.8L1078.3 908.8C1079.0 909.4 1081.9 910.6 1082.6 912.5C1083.3 914.4 1082.9 916.5 1082.3 920.0C1081.7 923.5 1079.1 928.2 1079.1 933.4C1079.1 938.5 1080.6 945.7 1082.2 950.9C1083.8 956.1 1086.4 961.1 1088.5 964.6C1090.6 968.1 1093.7 970.9 1094.7 972.1C1094.7 972.7 1094.9 974.8 1094.5 975.5C1094.1 976.2 1093.4 976.6 1092.2 976.4C1091.0 976.2 1088.0 974.8 1087.2 974.5"/>
<path class="k tf" d="M952.5 853.3L1065.5 910.8C1066.4 911.5 1069.7 913.0 1070.8 915.0C1071.9 917.0 1072.1 919.7 1072.3 923.0C1072.5 926.3 1071.3 929.6 1071.7 934.7C1072.1 939.8 1073.2 947.8 1074.8 953.4C1076.3 959.0 1078.7 964.7 1081.0 968.3C1083.3 971.9 1087.2 974.1 1088.5 975.2"/>
<path class="k tf" d="M953.3 856.7C955.5 860.6 959.2 871.1 966.7 880.0C974.2 888.9 988.9 898.6 998.3 910.0C1007.7 921.4 1018.9 942.0 1023.0 948.4"/>
<path class="k tf" d="M1023.0 948.4L1086.5 974.5"/>
<path class="k tf" d="M1023.0 948.4L1005.0 973.9"/>
<path class="k tf" d="M893.9 921.1L1004.4 974.4C1005.9 975.2 1011.1 977.5 1013.3 979.4C1015.5 981.3 1016.7 982.5 1017.8 985.6C1018.9 988.7 1018.7 993.9 1020.0 997.8C1021.3 1001.7 1023.2 1005.8 1025.6 1008.9C1028.0 1012.0 1031.5 1015.0 1034.4 1016.7C1037.4 1018.5 1040.9 1018.9 1043.3 1019.4C1045.7 1019.9 1048.0 1019.9 1048.9 1020.0C1049.0 1020.4 1050.3 1021.4 1049.6 1022.5C1048.8 1023.6 1046.6 1026.0 1044.4 1026.7C1042.2 1027.4 1039.8 1027.5 1036.7 1026.7C1033.6 1026.0 1028.6 1023.9 1025.6 1022.2C1022.6 1020.5 1020.8 1018.7 1018.9 1016.7C1017.0 1014.7 1015.9 1013.1 1014.4 1010.0C1012.9 1006.9 1011.2 1001.7 1010.0 997.8C1008.8 993.9 1008.3 989.2 1007.2 986.7C1006.1 984.2 1003.9 983.4 1003.3 982.8L888.3 929.4"/>
<path class="k tf" d="M888.9 930.0C889.5 931.3 889.8 934.8 892.2 937.8C894.6 940.8 897.7 944.5 903.3 947.8C908.9 951.1 917.3 953.7 925.6 957.8C933.9 961.9 945.0 967.2 953.3 972.2C961.6 977.2 970.2 983.7 975.6 987.8C981.0 991.9 983.2 994.3 985.6 996.7C988.0 999.1 989.3 1001.3 990.0 1002.2"/>
<path class="k tf" d="M990.0 1002.2L1018.9 1017.8"/>
<path class="k tf" d="M990.0 1002.2L971.1 1038.4"/>
<path class="k tf" d="M847.4 1007.5C852.5 1009.0 867.3 1013.3 878.3 1016.8C889.3 1020.3 902.6 1025.2 913.3 1028.5C924.0 1031.8 934.7 1034.9 942.5 1036.7C950.3 1038.5 955.2 1039.3 960.0 1039.6C964.8 1039.9 969.2 1038.6 971.1 1038.4"/>
<path class="k tf" d="M971.1 1038.4L1013.7 1075.2"/>
<path class="k tf" d="M848.0 1008.1L967.0 1062.9C967.8 1063.4 970.5 1064.3 971.7 1065.8C972.9 1067.3 972.6 1069.8 974.0 1071.7C975.4 1073.6 977.3 1075.7 979.8 1076.9C982.3 1078.1 985.7 1078.6 989.2 1078.7C992.7 1078.8 996.7 1078.1 1000.8 1077.5C1004.9 1076.9 1011.6 1075.6 1013.7 1075.2C1014.0 1075.5 1015.6 1075.9 1015.4 1076.9C1015.2 1077.9 1014.7 1079.3 1012.5 1081.0C1010.3 1082.7 1005.9 1085.3 1002.0 1086.8C998.1 1088.3 992.9 1089.8 989.2 1089.8C985.5 1089.8 982.7 1088.1 979.8 1086.8C976.9 1085.5 973.7 1084.0 971.7 1082.2C969.7 1080.5 968.8 1078.2 967.6 1076.3C966.4 1074.3 965.2 1071.5 964.7 1070.5L843.9 1015.1"/>
<path class="k tf" d="M845.1 1016.8C845.4 1018.2 845.3 1022.7 846.8 1025.0C848.2 1027.3 852.6 1029.8 853.8 1030.8L970.5 1082.2"/>
<path class="k tf" d="M955.3 1078.7L949.5 1102.0"/>
<path class="k tf" d="M823.5 1099.1C828.8 1099.8 842.0 1101.9 855.0 1103.2C868.0 1104.5 889.1 1106.3 901.7 1106.7C914.3 1107.1 922.8 1106.3 930.8 1105.5C938.8 1104.7 946.4 1102.6 949.5 1102.0"/>
<path class="k tf" d="M949.5 1102.0L996.7 1146.7"/>
<path class="k tf" d="M825.0 1099.2L945.8 1160.8C946.9 1161.5 949.9 1164.1 952.5 1164.7C955.1 1165.3 958.2 1165.0 961.7 1164.2C965.2 1163.4 967.9 1162.9 973.3 1160.0C978.7 1157.1 990.7 1148.9 994.2 1146.7C994.6 1147.0 998.8 1145.8 996.7 1148.3C994.6 1150.8 986.7 1157.8 981.7 1161.7C976.7 1165.6 970.6 1169.5 966.7 1171.7C962.8 1173.9 961.1 1174.7 958.3 1175.0C955.5 1175.3 951.4 1173.6 950.0 1173.3L822.5 1113.3"/>
<path class="k t25" d="M826.7 1184.2C834.5 1183.2 860.0 1180.7 873.3 1178.3C886.6 1175.9 898.0 1172.5 906.7 1170.0C915.4 1167.5 922.2 1164.2 925.3 1163.0"/>
<path class="k t25" d="M826.7 1185.0L901.7 1225.0"/>
<path class="k t25" d="M901.7 1225.0L968.0 1173.7"/>
<path class="k t25" d="M901.7 1225.3L905.0 1243.3"/>
<path class="k t25" d="M905.0 1243.3C908.0 1243.4 917.5 1244.1 923.3 1243.7C929.1 1243.3 934.4 1242.4 940.0 1240.8C945.6 1239.2 951.2 1237.1 956.7 1234.2C962.2 1231.3 968.6 1227.0 973.3 1223.3C978.0 1219.5 981.7 1216.0 985.0 1211.7C988.3 1207.4 991.9 1199.9 993.3 1197.5"/>
<path class="k t25" d="M993.3 1197.5L1005.0 1230.0"/>
<path class="k t25" d="M905.0 1244.2L945.0 1264.2C947.0 1264.2 952.0 1265.0 956.7 1264.2C961.4 1263.5 968.0 1262.4 973.3 1259.7C978.6 1257.0 984.4 1252.0 988.3 1248.3C992.2 1244.6 994.5 1241.3 996.7 1237.5C998.9 1233.7 1000.9 1227.3 1001.7 1225.3"/>
<path class="k t25" d="M911.7 1258.3L943.3 1274.2C945.5 1274.0 951.7 1274.0 956.7 1273.3C961.7 1272.5 968.0 1271.9 973.3 1269.7C978.6 1267.5 984.1 1263.4 988.3 1260.0C992.5 1256.6 995.5 1253.7 998.3 1249.2C1001.1 1244.7 1004.1 1235.7 1005.3 1233.0"/>
<path class="k t25" d="M911.7 1258.3C912.5 1260.1 914.5 1265.3 916.7 1269.2C918.9 1273.1 921.4 1277.4 925.0 1281.7C928.6 1286.0 936.1 1293.0 938.3 1295.3"/>
<path class="k t25" d="M973.3 1315.3C976.1 1313.6 984.4 1309.1 990.0 1305.3C995.6 1301.5 1002.0 1297.3 1006.7 1292.5C1011.4 1287.7 1015.0 1282.1 1018.3 1276.7C1021.6 1271.3 1024.0 1266.4 1026.7 1260.0C1029.4 1253.6 1033.0 1241.9 1034.2 1238.3"/>
<path class="k t25" d="M1034.2 1238.3L1046.7 1234.2L1066.7 1261.7C1067.0 1263.1 1068.5 1266.4 1068.7 1270.0C1068.9 1273.6 1069.5 1277.5 1068.0 1283.3C1066.5 1289.1 1063.5 1298.3 1060.0 1305.0C1056.5 1311.7 1048.9 1320.6 1046.7 1323.7"/>
<path class="k t25" d="M1035.0 1240.0L1055.8 1266.7C1056.0 1268.4 1057.0 1272.8 1056.7 1276.7C1056.4 1280.6 1057.0 1283.9 1054.2 1290.0C1051.4 1296.1 1045.4 1307.0 1040.0 1313.3C1034.6 1319.6 1025.0 1325.5 1022.0 1328.0"/>
<path class="k t20" d="M1085.8 1226.7L1097.5 1223.3L1116.7 1238.3C1117.5 1239.7 1120.7 1243.4 1121.7 1246.7C1122.7 1250.0 1123.0 1253.3 1122.8 1258.3C1122.6 1263.3 1121.3 1270.6 1120.3 1276.7C1119.3 1282.8 1117.5 1292.0 1117.0 1295.0"/>
<path class="k t20" d="M1086.7 1228.3L1106.7 1245.0C1107.7 1246.0 1111.3 1247.8 1112.5 1250.8C1113.7 1253.8 1114.1 1257.9 1113.7 1263.3C1113.3 1268.7 1111.3 1277.2 1110.0 1283.3C1108.7 1289.4 1107.6 1294.6 1105.8 1300.0C1104.0 1305.4 1100.3 1313.2 1099.2 1315.8"/>
<path class="k t20" d="M1087.2 1228.3C1087.6 1231.4 1089.2 1240.3 1089.7 1246.7C1090.2 1253.1 1090.5 1258.7 1090.0 1266.7C1089.5 1274.8 1088.7 1287.1 1087.0 1295.0C1085.3 1302.9 1081.2 1311.0 1080.0 1314.2"/>
<path class="k t20" d="M1112.5 1201.7L1161.7 1225.0C1162.7 1226.4 1166.3 1228.8 1167.5 1233.3C1168.7 1237.8 1169.0 1245.6 1168.7 1251.7C1168.4 1257.8 1166.8 1265.0 1165.8 1270.0C1164.8 1275.0 1163.5 1278.8 1163.0 1281.7C1162.5 1284.6 1162.6 1286.5 1162.5 1287.5"/>
<path class="k t20" d="M1112.5 1202.2C1114.6 1203.8 1121.5 1208.2 1125.0 1211.7C1128.5 1215.2 1131.2 1219.1 1133.3 1223.3C1135.4 1227.5 1136.4 1231.4 1137.5 1236.7C1138.6 1242.0 1139.2 1248.1 1140.0 1255.0C1140.8 1261.9 1141.7 1274.4 1142.0 1278.3"/>
<path class="k t20" d="M1130.7 1180.9C1132.2 1179.2 1137.1 1173.7 1140.0 1171.0C1142.9 1168.3 1146.1 1166.0 1148.2 1164.9C1150.3 1163.8 1151.8 1164.3 1152.5 1164.2L1206.4 1185.3C1208.1 1187.5 1214.1 1194.0 1216.5 1198.4C1218.9 1202.8 1220.1 1206.4 1220.9 1211.5C1221.8 1216.6 1221.5 1226.0 1221.6 1228.9"/>
<path class="k t20" d="M1159.8 1147.5C1159.5 1148.4 1157.7 1151.3 1157.8 1153.0C1157.9 1154.7 1160.0 1156.8 1160.5 1157.5L1191.8 1172.2"/>
<path class="k t20" d="M1160.7 1149.0C1160.3 1150.3 1157.7 1154.3 1158.4 1156.6C1159.2 1158.9 1164.1 1161.7 1165.2 1162.7L1197.2 1173.4"/>
<path class="k t20" d="M1199.5 1088.8L1191.2 1106.3L1233.1 1120.0"/>
<path class="k t20" d="M1233.1 1120.0L1247.5 1117.0C1249.5 1117.8 1255.9 1118.5 1259.7 1121.6C1263.5 1124.6 1268.4 1130.5 1270.4 1135.3C1272.4 1140.1 1271.7 1148.0 1271.9 1150.5"/>
<path class="k t20" d="M1211.0 1121.6L1233.1 1126.1L1249.1 1124.6C1250.9 1125.1 1256.7 1125.4 1259.7 1127.7C1262.8 1130.0 1265.9 1134.5 1267.4 1138.3C1268.9 1142.1 1268.7 1148.5 1268.9 1150.5"/>
<path class="k t20" d="M1217.1 1013.3L1213.3 1044.6L1256.7 1056.0"/>
<path class="k t20" d="M1256.7 1056.0C1258.7 1055.0 1265.1 1051.4 1268.9 1049.9C1272.7 1048.4 1275.8 1046.9 1279.6 1046.9C1283.4 1046.9 1287.9 1047.9 1291.7 1049.9C1295.5 1051.9 1300.4 1056.8 1302.4 1059.1C1304.4 1061.4 1303.7 1062.8 1303.9 1063.6"/>
<path class="k t20" d="M1261.3 1063.6C1263.6 1062.1 1271.2 1056.3 1275.0 1054.5C1278.8 1052.7 1280.8 1052.5 1284.1 1053.0C1287.4 1053.5 1292.0 1055.5 1294.8 1057.5C1297.6 1059.5 1299.9 1063.9 1300.9 1065.2"/>
<path class="k t25" d="M1268.2 921.8C1266.0 923.6 1260.0 929.1 1255.0 932.4C1250.0 935.7 1243.0 937.9 1237.9 941.6C1232.9 945.3 1228.7 949.2 1224.7 954.7C1220.8 960.2 1216.0 971.2 1214.2 974.5L1262.9 981.1L1268.2 977.1C1269.3 975.4 1271.4 969.9 1274.7 966.6C1278.0 963.3 1283.5 959.7 1287.9 957.4C1292.3 955.1 1297.6 953.8 1301.1 952.8C1304.6 951.8 1307.6 951.6 1308.9 951.4"/>
<path class="k t3" d="M1021.2 878.6L1114.7 822.5"/>
<path class="k t3" d="M1114.7 822.5L1153.3 847.4C1153.9 848.2 1156.8 849.9 1157.0 852.4C1157.2 854.9 1156.0 857.8 1154.5 862.4C1153.0 867.0 1149.8 874.0 1148.3 879.8C1146.8 885.6 1146.0 891.9 1145.8 897.3C1145.6 902.7 1147.5 908.5 1147.1 912.2C1146.7 915.9 1144.6 918.4 1143.3 919.7C1142.0 921.1 1139.7 920.2 1139.0 920.3"/>
<path class="k tf" d="M1104.7 827.5L1144.6 852.4C1145.0 853.0 1147.3 853.4 1147.1 856.1C1146.9 858.8 1144.8 863.4 1143.3 868.6C1141.8 873.8 1139.2 881.3 1138.3 887.3C1137.4 893.3 1137.4 899.7 1137.7 904.7C1138.0 909.7 1139.8 915.1 1140.2 917.2"/>
<path class="k tf" d="M1102.8 828.7C1101.7 832.9 1097.5 845.9 1096.0 853.6C1094.5 861.3 1093.3 867.5 1093.5 874.8C1093.7 882.1 1095.7 890.6 1097.2 897.3C1098.8 903.9 1101.9 911.8 1102.8 914.7"/>
<path class="k tf" d="M1102.8 915.3L1139.0 920.3"/>
<path class="k tf" d="M1102.8 915.3C1100.6 916.9 1093.4 921.8 1089.7 924.7C1086.0 927.6 1082.0 931.4 1080.4 932.8"/>
<path class="k tf" d="M1141.8 835.0C1145.3 834.1 1155.4 830.7 1162.9 829.7C1170.4 828.7 1178.9 828.6 1186.6 829.1C1194.3 829.6 1202.1 830.9 1208.9 833.0C1215.7 835.1 1222.6 838.6 1227.4 841.6C1232.2 844.6 1236.2 849.3 1237.9 850.8"/>
<path class="k tf" d="M1237.9 851.4C1235.3 853.3 1226.9 857.9 1222.1 862.6C1217.3 867.3 1212.3 874.4 1208.9 879.7C1205.5 885.0 1203.3 890.6 1201.7 894.2C1200.1 897.8 1199.5 900.2 1199.1 901.4"/>
<path class="k tf" d="M1145.8 894.2L1199.1 901.4"/>
<path class="k tf" d="M1190.5 902.1L1185.9 917.2L1228.7 920.5"/>
<path class="k tf" d="M1267.5 869.2C1265.2 871.0 1258.2 875.5 1253.7 879.7C1249.2 883.9 1244.0 889.6 1240.5 894.2C1237.0 898.8 1234.6 903.1 1232.6 907.4C1230.6 911.7 1229.3 917.8 1228.7 919.9"/>
<path class="k tf" d="M1261.6 888.3C1259.4 890.4 1251.9 897.2 1248.4 900.8C1244.9 904.4 1242.4 907.5 1240.5 910.0C1238.6 912.5 1238.4 914.2 1237.2 915.9C1236.0 917.5 1234.7 919.1 1233.3 919.9C1231.9 920.7 1229.5 920.4 1228.7 920.5"/>
<ellipse class="k tf" cx="1108.8" cy="1070.1" rx="25.3" ry="43.8" transform="rotate(26.0 1108.8 1070.1)"/>
<ellipse class="k tf" cx="1108.8" cy="1069.6" rx="20.7" ry="38.0" transform="rotate(25.0 1108.8 1069.6)"/>
<path class="k f" style="stroke:none" d="M1096.5 1046.5L1098.7 1049.1L1102 1052.8L1108.6 1048.2L1108.2 1039.1L1110.5 1036.2L1104 1036Z"/>
<path class="k t2" d="M1097.8 1047.6L1102 1052.8L1108.6 1048.2L1108.2 1039.1L1110 1037"/>
<path class="k t1" d="M1101.6 1042.4L1101.6 1048.5"/>
<path class="k h" d="M990.8 847.5Q1019.3 822.7 1054.2 808.3"/>
<path class="k h" d="M995.7 850.3Q1024.1 825.4 1058.9 810.9"/>
<path class="k h" d="M1000.5 853.1Q1028.9 828.1 1063.6 813.6"/>
<path class="k h" d="M1005.4 855.9Q1033.7 830.8 1068.3 816.2"/>
<path class="k h" d="M1010.3 858.6Q1038.5 833.6 1073.1 818.9"/>
<path class="k h" d="M1015.1 861.4Q1043.3 836.3 1077.8 821.6"/>
<path class="k h" d="M1020.0 864.2Q1048.0 839.0 1082.5 824.2"/>
<path class="k h" d="M990.8 847.5L1020.0 864.2"/>
<path class="k h" d="M1054.2 808.3L1082.5 824.2"/>
<path class="k h" d="M1080.1 798.8C1083.8 798.1 1095.5 795.2 1102.4 794.5C1109.3 793.8 1115.0 794.0 1121.3 794.5C1127.6 795.0 1137.1 797.2 1140.3 797.8"/>
<path class="k h" d="M1086.5 802.4C1090.3 801.7 1102.2 798.8 1109.1 798.1C1116.0 797.4 1121.9 797.8 1128.1 798.4C1134.3 799.0 1143.4 801.2 1146.4 801.8"/>
<path class="k h" d="M1094.4 805.2C1097.9 804.6 1108.6 802.1 1115.2 801.5C1121.8 800.9 1127.5 801.1 1134.2 801.8C1140.9 802.5 1152.0 805.1 1155.6 805.8"/>
<path class="k h" d="M1103.0 810.1C1106.2 809.5 1115.3 807.0 1122.0 806.4C1128.7 805.8 1137.2 806.0 1143.3 806.4C1149.4 806.8 1156.0 808.4 1158.6 808.8"/>
<path class="k h" d="M1108.2 814.6C1111.5 813.9 1121.2 811.1 1128.1 810.1C1135.0 809.1 1143.3 808.3 1149.5 808.5C1155.7 808.7 1162.8 810.8 1165.4 811.3"/>
<path class="k h" d="M1080.1 798.8L1108.2 814.6"/>
</g>
<g id="p_text">
<text x="1591.8" y="1382.7" textLength="146.5" lengthAdjust="spacingAndGlyphs" style="font-family:'Liberation Sans',sans-serif;font-weight:bold;font-size:23.5px;fill:#000">007 0002 000</text>
<text x="1640.5" y="1428.7" textLength="127.5" lengthAdjust="spacingAndGlyphs" style="font-family:'Liberation Serif',serif;font-size:35px"><tspan fill="#4a6eb8">m</tspan><tspan fill="#57b44c">o</tspan><tspan fill="#ee6aa7">t</tspan><tspan fill="#2fae4a">o</tspan><tspan fill="#e4572e">r</tspan><tspan fill="#ee9b1f">u</tspan><tspan fill="#f2c21a">f</tspan></text>
<text x="1769.3" y="1429" textLength="19" lengthAdjust="spacingAndGlyphs" style="font-family:'Liberation Sans',sans-serif;font-size:12.5px;fill:#4d4a2c">.de</text>
<circle cx="1773.5" cy="1404.3" r="0.8" fill="#888"/>
</g>
</svg>
</body>
</html>
